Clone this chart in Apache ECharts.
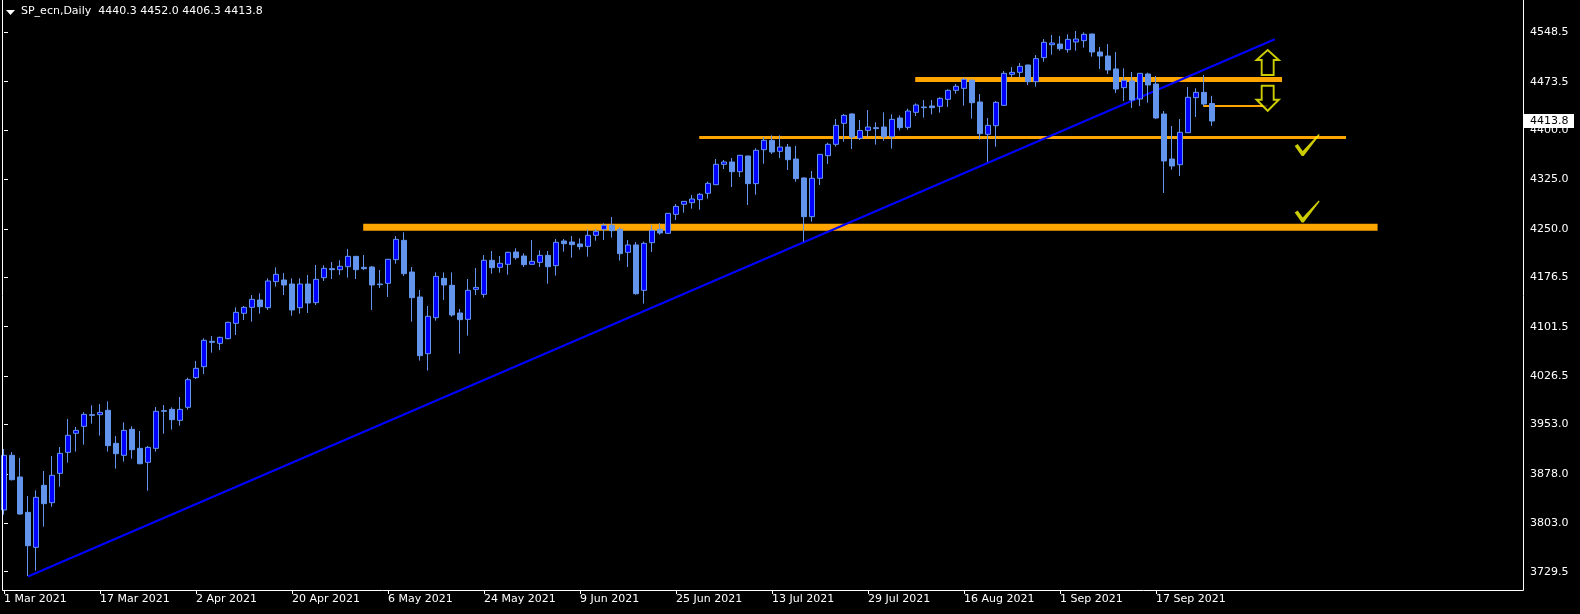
<!DOCTYPE html>
<html><head><meta charset="utf-8">
<script src="https://cdn.jsdelivr.net/npm/echarts@6/dist/echarts.min.js"></script>
<style>html,body{margin:0;padding:0;background:#000;}#c{width:1580px;height:614px;}</style>
</head><body><div id="c"></div>
<script>
// ---- data ----
const symbolName = 'SP_ecn,Daily';
const opens = [3823.2,3906.2,3873.3,3819.6,3766.5,3860.6,3834.3,3878.8,3910.7,3939.6,3950.2,3967.9,3967.9,3974.5,3924.4,3906.2,3945.7,3916.8,3895.6,3916.8,
3974.0,3976.0,3959.3,3979.1,4024.1,4040.8,4079.3,4076.2,4083.3,4106.6,4121.8,4130.9,4142.0,4130.4,4169.9,4172.4,4166.3,4130.4,4166.3,4138.0,
4175.9,4189.6,4188.1,4192.6,4208.3,4191.6,4192.1,4166.3,4167.3,4203.3,4232.6,4184.5,4146.6,4060.5,4115.2,4174.9,4164.3,4122.3,4112.7,4158.2,
4150.6,4202.3,4191.6,4196.2,4214.9,4208.8,4196.2,4199.2,4209.8,4194.2,4231.6,4230.1,4227.1,4223.5,4240.2,4249.3,4255.4,4249.3,4214.4,4225.6,
4156.7,4229.1,4249.3,4243.3,4272.1,4287.3,4289.8,4294.4,4304.0,4317.1,4348.0,4351.6,4336.9,4360.7,4318.7,4370.3,4384.5,4367.8,4374.3,4356.1,
4327.3,4268.6,4326.8,4361.2,4378.4,4410.3,4424.5,4387.5,4399.6,4403.7,4404.7,4390.0,4418.4,4404.2,4427.0,4435.1,4436.6,4436.1,4446.7,4460.4,
4463.4,4475.6,4442.7,4393.6,4406.7,4437.6,4484.7,4487.7,4498.8,4473.5,4510.0,4529.7,4530.7,4522.1,4533.8,4535.8,4545.9,4518.6,4512.5,4492.8,
4464.4,4474.5,4447.2,4485.2,4470.0,4424.4,4356.1,4347.5,4396.1,4449.3,4457.3,4440.3];
const highs = [3915.8,3911.2,3902.1,3844.4,3853.0,3882.4,3905.2,3918.8,3961.4,3949.2,3971.5,3982.1,3984.1,3988.2,3935.5,3956.3,3950.2,3943.1,3920.4,3979.6,
3982.6,3979.1,3994.8,4024.0,4049.4,4083.8,4087.4,4086.4,4109.1,4130.9,4132.9,4149.6,4152.2,4174.9,4191.6,4183.0,4174.9,4174.9,4180.0,4195.2,
4194.7,4199.7,4202.3,4219.5,4208.8,4210.4,4193.7,4187.6,4204.3,4239.2,4244.8,4192.1,4157.2,4132.9,4184.0,4184.0,4184.0,4128.4,4173.9,4190.6,
4210.3,4216.4,4208.8,4215.4,4220.5,4212.9,4233.1,4217.4,4216.4,4234.7,4234.7,4239.2,4235.7,4249.3,4249.8,4258.4,4268.0,4252.4,4233.1,4230.1,
4230.6,4255.9,4258.9,4274.1,4287.8,4292.3,4301.5,4304.5,4321.7,4356.1,4354.6,4357.6,4362.2,4361.2,4372.3,4389.5,4392.1,4392.1,4378.9,4375.9,
4328.3,4337.9,4363.7,4380.9,4416.9,4424.5,4425.5,4415.4,4430.5,4411.8,4427.0,4423.9,4422.4,4432.5,4440.6,4445.7,4445.7,4449.8,4461.9,4470.0,
4479.6,4477.1,4454.8,4418.4,4444.2,4489.7,4495.8,4501.9,4499.3,4514.0,4538.3,4544.4,4542.9,4545.4,4550.5,4548.4,4546.4,4526.2,4530.7,4518.6,
4493.8,4488.2,4486.7,4487.2,4482.1,4429.0,4406.2,4416.8,4465.4,4463.4,4483.7,4452.0];
const lows = [3816.1,3868.0,3816.1,3723.0,3731.1,3797.9,3828.2,3858.6,3895.1,3911.8,3922.4,3954.3,3936.1,3911.8,3886.0,3896.6,3901.1,3892.5,3852.5,3911.8,
3939.1,3945.2,3951.2,3975.5,4022.1,4029.7,4062.1,4066.1,4082.3,4088.9,4111.7,4109.1,4121.3,4126.9,4162.3,4149.6,4118.2,4121.3,4122.3,4134.4,
4170.9,4173.9,4180.0,4175.9,4173.9,4187.6,4126.9,4160.3,4146.6,4197.2,4178.5,4109.1,4050.0,4035.0,4110.6,4142.0,4116.7,4060.5,4087.9,4149.6,
4145.6,4182.0,4183.5,4180.5,4203.3,4192.1,4195.7,4192.1,4166.8,4179.0,4215.4,4206.3,4218.5,4207.8,4232.1,4233.1,4236.7,4201.8,4192.1,4150.0,
4136.5,4214.9,4241.2,4242.2,4263.5,4274.6,4280.7,4279.2,4295.9,4316.6,4340.9,4313.6,4328.8,4286.3,4302.0,4349.0,4363.7,4357.6,4339.4,4321.7,
4230.6,4261.0,4316.6,4348.5,4374.9,4382.4,4371.3,4385.0,4390.0,4377.9,4383.9,4371.8,4399.6,4400.7,4421.4,4418.9,4423.9,4426.5,4435.1,4455.3,
4437.1,4417.4,4385.5,4351.6,4374.8,4437.1,4480.1,4480.1,4468.5,4465.9,4503.9,4514.5,4520.6,4517.6,4520.6,4525.2,4511.5,4492.8,4485.2,4456.3,
4444.2,4433.5,4436.6,4441.6,4416.8,4304.5,4339.9,4330.3,4396.1,4419.9,4436.6,4406.3];
const closes = [3906.2,3869.2,3817.1,3769.0,3842.4,3832.8,3875.8,3909.2,3936.6,3944.1,3968.4,3966.9,3971.5,3920.9,3908.7,3944.1,3914.8,3893.5,3918.3,3973.0,
3973.0,3960.3,3976.0,4021.0,4038.3,4080.8,4077.8,4085.3,4108.1,4123.3,4130.9,4143.0,4131.9,4170.9,4181.0,4164.8,4126.9,4166.3,4137.5,4173.4,
4190.1,4188.1,4193.2,4208.3,4188.1,4189.6,4164.8,4165.3,4203.8,4234.1,4182.0,4145.6,4057.5,4117.2,4177.9,4164.8,4119.3,4112.2,4156.7,4161.2,
4202.3,4191.1,4197.7,4214.4,4206.3,4195.7,4200.7,4209.8,4192.6,4229.6,4227.6,4226.1,4223.0,4240.2,4246.3,4255.4,4247.3,4212.4,4225.6,4151.6,
4228.1,4247.8,4243.8,4273.6,4284.2,4291.8,4295.4,4302.5,4319.2,4348.0,4351.6,4336.9,4361.7,4318.7,4369.3,4384.5,4366.8,4374.3,4355.1,4326.3,
4268.6,4326.8,4363.2,4378.4,4407.2,4422.4,4389.5,4399.4,4404.7,4402.2,4390.0,4416.3,4403.7,4429.0,4438.1,4434.1,4434.1,4448.2,4460.4,4466.5,
4477.1,4441.6,4394.6,4407.2,4442.2,4486.2,4487.7,4496.8,4473.5,4508.5,4533.3,4532.3,4523.6,4537.8,4538.3,4545.4,4518.6,4512.5,4491.3,4462.4,
4475.6,4445.7,4486.2,4468.5,4418.4,4353.1,4345.5,4396.6,4449.8,4457.3,4439.6,4413.8];
const yTickLabels = [4548.5, 4473.5, 4400.0, 4325.0, 4250.0, 4176.5, 4101.5, 4026.5, 3953.0, 3878.0, 3803.0, 3729.5];
// annotations in data coordinates [bar index, price]
const trendLine = [[3, 3722.2], [158.85, 4537.9]];
const levelThick = [[44.9, 4252.4], [171.7, 4252.4]];
const levelMid = [[86.9, 4388.8], [167.75, 4388.8]];
const levelTop = [[113.9, 4476.8], [159.75, 4476.8]];
const levelShort = [[149.9, 4436.6], [157.95, 4436.6]];
const arrowUp = [[157.96, 4502.6]];
const arrowDown = [[157.96, 4448.4]];
const checks = [[162.9, 4377.4], [162.9, 4276.3]];

const Y_MIN = 3701.71, Y_MAX = 4597.54;
const N_CAT = 190;

// trading-day categories (weekdays from 1 Mar 2021)
const MON = ['Jan','Feb','Mar','Apr','May','Jun','Jul','Aug','Sep','Oct','Nov','Dec'];
const categories = [];
{
  let d = new Date(Date.UTC(2021, 2, 1));
  while (categories.length < N_CAT) {
    const wd = d.getUTCDay();
    if (wd !== 0 && wd !== 6) categories.push(d.getUTCDate() + ' ' + MON[d.getUTCMonth()] + ' ' + d.getUTCFullYear());
    d = new Date(d.getTime() + 86400000);
  }
}
const nBars = opens.length;
const showIdx = (i) => i % 12 === 0 && i < nBars;

const chart = echarts.init(document.getElementById('c'), null, {renderer: 'canvas'});
const FONT = 'DejaVu Sans';
const orange = '#FFA500';
const lineSeries = (data, color, width) => ({
  type: 'line', xAxisIndex: 1, yAxisIndex: 0, data: data, symbol: 'none', z: 2,
  lineStyle: {color: color, width: width, cap: 'butt'}, silent: true, animation: false
});

chart.setOption({
  backgroundColor: '#000',
  animation: false,
  grid: {left: 0, top: 0, width: 1520, height: 590, containLabel: false, outerBoundsMode: 'none'},
  xAxis: [{
    type: 'category', data: categories, boundaryGap: true,
    axisLine: {show: false},
    axisTick: {show: true, interval: (i) => showIdx(i), alignWithLabel: true, length: 4, lineStyle: {color: '#fff'}},
    axisLabel: {interval: (i) => showIdx(i), align: 'left', color: '#fff', fontFamily: FONT, fontSize: 11, margin: 4},
    splitLine: {show: false}
  }, {
    type: 'value', min: -0.5, max: N_CAT - 0.5, show: false
  }],
  yAxis: [{
    type: 'value', position: 'right', offset: 3, min: Y_MIN, max: Y_MAX,
    splitLine: {show: false},
    axisLine: {show: false},
    axisTick: {show: true, customValues: yTickLabels, length: 4, lineStyle: {color: '#fff'}},
    axisLabel: {customValues: yTickLabels, formatter: (v) => Number(v).toFixed(1), color: '#fff', fontFamily: FONT, fontSize: 11, margin: 7}
  }],
  series: [
    lineSeries(levelThick, orange, 7),
    lineSeries(levelMid, orange, 3),
    lineSeries(levelTop, orange, 5),
    lineSeries(levelShort, orange, 2),
    lineSeries(trendLine, '#0000FF', 2),
    {
      type: 'candlestick', xAxisIndex: 0, yAxisIndex: 0, z: 5, barWidth: 5,
      data: opens.map((o, i) => [o, closes[i], lows[i], highs[i]]),
      itemStyle: {color: '#0000FF', color0: '#6495ED', borderColor: '#6495ED', borderColor0: '#6495ED', borderWidth: 1},
      silent: true
    },
    {
      type: 'scatter', xAxisIndex: 1, yAxisIndex: 0, z: 6, data: arrowUp,
      symbol: 'path://M11,0 L22,10 L17,10 L17,25 L5,25 L5,10 L0,10 Z', symbolSize: [22, 25],
      itemStyle: {color: '#000', borderColor: '#FFFF00', borderWidth: 2}
    },
    {
      type: 'scatter', xAxisIndex: 1, yAxisIndex: 0, z: 6, data: arrowDown,
      symbol: 'path://M5,0 L17,0 L17,14 L22,14 L11,25 L0,14 L5,14 Z', symbolSize: [22, 25],
      itemStyle: {color: '#000', borderColor: '#FFFF00', borderWidth: 2}
    },
    {
      type: 'scatter', xAxisIndex: 1, yAxisIndex: 0, z: 6, data: checks,
      symbol: 'path://M0,12 L3,10 L8,17 L24,0 L25,1 L9,22 L7,22 Z', symbolSize: [25, 22],
      itemStyle: {color: '#FFFF00'}
    }
  ]
});

const lastClose = closes[nBars - 1];
const py = chart.convertToPixel({yAxisIndex: 0}, lastClose);
const header = symbolName + '  ' + [opens[nBars-1], highs[nBars-1], lows[nBars-1], lastClose].map(v => v.toFixed(1)).join(' ');
chart.setOption({
  graphic: [
    {type: 'polyline', shape: {points: [[2.5, 0], [2.5, 590.5], [1523.5, 590.5], [1523.5, 0]]}, style: {stroke: '#fff', lineWidth: 1, fill: null}, z: 10},
    {type: 'polygon', shape: {points: [[6, 10], [15, 10], [10.5, 15]]}, style: {fill: '#fff'}, z: 10},
    {type: 'text', left: 21, top: 6, style: {text: header, fill: '#fff', font: '11px "DejaVu Sans"'}, z: 10},
    {type: 'rect', shape: {x: 1524, y: Math.round(py) - 7, width: 50, height: 14}, style: {fill: '#fff'}, z: 20},
    {type: 'text', x: 1530, y: Math.round(py), style: {text: lastClose.toFixed(1), fill: '#000', font: '11px "DejaVu Sans"', verticalAlign: 'middle'}, z: 21}
  ]
});
</script></body></html>
